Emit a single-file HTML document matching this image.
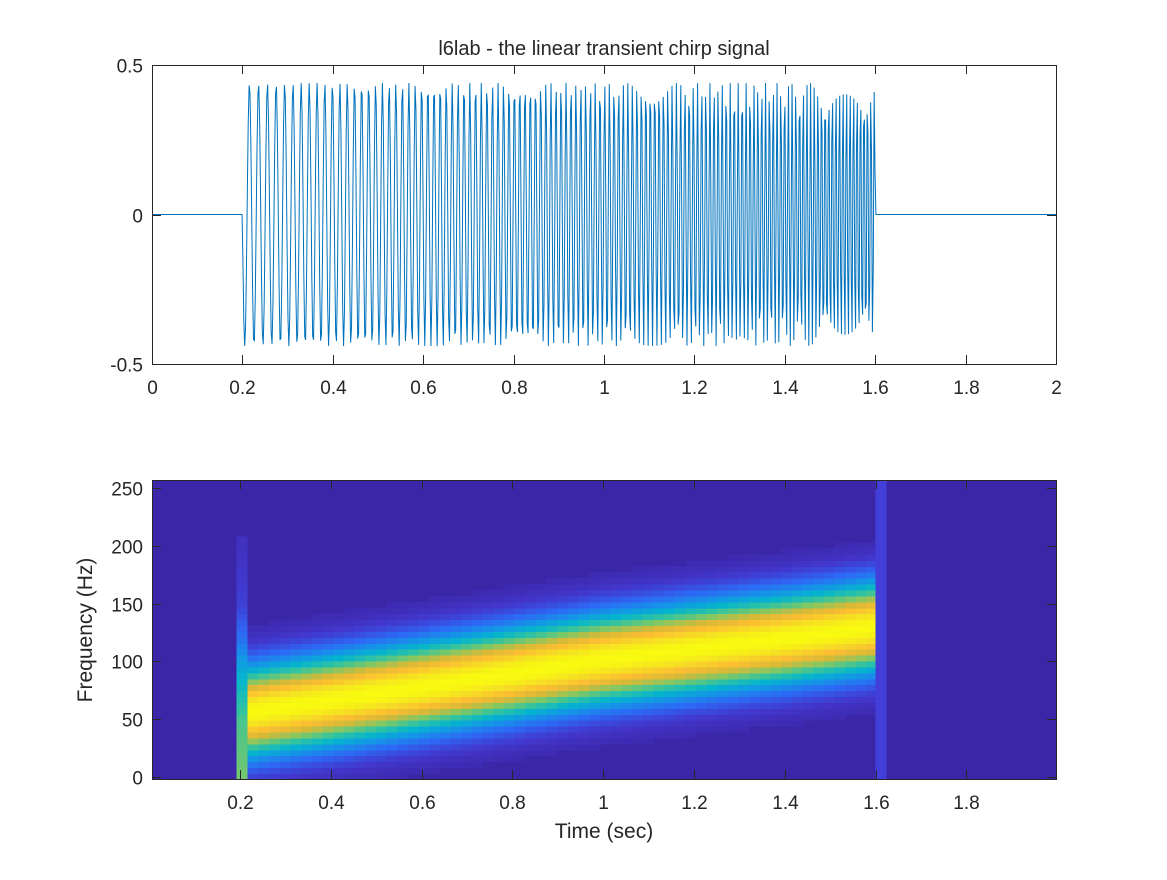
<!DOCTYPE html>
<html><head><meta charset="utf-8"><style>
html,body{margin:0;padding:0;background:#fff;}
svg text{font-family:"Liberation Sans",Arial,sans-serif;fill:#262626;}
</style></head><body>
<svg id="fig" width="1167" height="875" viewBox="0 0 1167 875" xmlns="http://www.w3.org/2000/svg" shape-rendering="crispEdges">
<rect width="1167" height="875" fill="#fff"/>
<g id="topplot"></g>
<g id="botplot"></g>
</svg>
<script>
// ---- signal data (chirp parameters) ----
const chirpTimes = [0.2, 1.6];
const chirpFreqs = [48, 132];
const chirpAmp = [0.44];
const sampleRate = [512];
const topXTicks = [0,0.2,0.4,0.6,0.8,1,1.2,1.4,1.6,1.8,2];
const topXLabels = ["0","0.2","0.4","0.6","0.8","1","1.2","1.4","1.6","1.8","2"];
const topYTicks = [-0.5,0,0.5];
const topYLabels = ["-0.5","0","0.5"];
// ---- spectrogram data ----
const ridgeTimes = [0.2, 0.6, 1.0, 1.4, 1.6];
const ridgeFreqs = [55, 78, 102, 120, 130];
const ridgeWidth = [38];
const onsetColumn = [0.192, 0.217];
const onsetFreqs = [0, 50, 90, 120, 150, 205];
const onsetLevels = [0.6, 0.55, 0.4, 0.22, 0.1, 0.05];
const offsetColumn = [1.6, 1.624];
const botXTicks = [0.2,0.4,0.6,0.8,1,1.2,1.4,1.6,1.8];
const botXLabels = ["0.2","0.4","0.6","0.8","1","1.2","1.4","1.6","1.8"];
const botYTicks = [0,50,100,150,200,250];
const botYLabels = ["0","50","100","150","200","250"];

const NS="http://www.w3.org/2000/svg";
function mk(tag, attrs, parent){const e=document.createElementNS(NS,tag);for(const k in attrs)e.setAttribute(k,attrs[k]);parent.appendChild(e);return e;}
function interp(xs,ys,x){if(x<=xs[0])return ys[0];for(let i=1;i<xs.length;i++){if(x<=xs[i]){const f=(x-xs[i-1])/(xs[i]-xs[i-1]);return ys[i-1]+f*(ys[i]-ys[i-1]);}}return ys[ys.length-1];}

const T={x0:152,x1:1056,y0:65,y1:364};
const tx=t=>T.x0+(t-0)/(2-0)*(T.x1-T.x0);
const ty=v=>T.y1-(v+0.5)/1*(T.y1-T.y0);
const topG=document.getElementById('topplot');
(function(){
  const fs=sampleRate[0];let d="";
  const k=(chirpFreqs[1]-chirpFreqs[0])/(chirpTimes[1]-chirpTimes[0]);
  for(let i=0;i<=2*fs;i++){
    const t=i/fs;let v=0;
    if(t>=chirpTimes[0]&&t<=chirpTimes[1]){const u=t-chirpTimes[0];v=-chirpAmp[0]*Math.sin(2*Math.PI*(chirpFreqs[0]*u+k/2*u*u));}
    d+=(i?"L":"M")+tx(t).toFixed(2)+" "+ty(v).toFixed(2);
  }
  const p=mk('path',{d:d,fill:'none',stroke:'#0072BD','stroke-width':1,'shape-rendering':'auto'},topG);
  
  
})();
function axesFrame(g,A,xt,xl,xf,yt,yl,yf,prefix){
  const r=mk('rect',{x:A.x0+0.5,y:A.y0+0.5,width:A.x1-A.x0,height:A.y1-A.y0,fill:'none',stroke:'#262626','stroke-width':1},g);
  
  
  xt.forEach((v,i)=>{const x=Math.round(xf(v))+0.5;
    mk('line',{x1:x,x2:x,y1:A.y1,y2:A.y1-9,stroke:'#262626'},g);
    mk('line',{x1:x,x2:x,y1:A.y0,y2:A.y0+9,stroke:'#262626'},g);
    const t=mk('text',{x:x,y:A.y1+30,'text-anchor':'middle','font-size':19},g);t.textContent=xl[i];
    
    
  });
  yt.forEach((v,i)=>{const y=Math.round(yf(v))+0.5;
    mk('line',{x1:A.x0,x2:A.x0+9,y1:y,y2:y,stroke:'#262626'},g);
    mk('line',{x1:A.x1,x2:A.x1-9,y1:y,y2:y,stroke:'#262626'},g);
    const t=mk('text',{x:A.x0-9,y:y+7,'text-anchor':'end','font-size':19},g);t.textContent=yl[i];
    
    
  });
}
axesFrame(topG,T,topXTicks,topXLabels,tx,topYTicks,topYLabels,ty,'signal');
const title=mk('text',{x:604,y:55,'text-anchor':'middle','font-size':20},topG);
title.textContent="l6lab - the linear transient chirp signal";



const B={x0:152,x1:1056,y0:480,y1:779};
const bx=t=>240+(t-0.2)*(875.5-240)/1.4;
const by=f=>777-f*(777-488)/250;
const botG=document.getElementById('botplot');
const stops=[[0,[60,38,168]],[0.08,[66,55,205]],[0.2,[45,105,245]],[0.32,[20,150,230]],[0.42,[5,180,205]],[0.52,[50,195,160]],[0.62,[130,200,100]],[0.72,[215,185,55]],[0.82,[252,190,50]],[0.92,[245,225,35]],[1,[248,250,15]]];
function cmap(v){v=Math.max(0,Math.min(1,v));for(let i=1;i<stops.length;i++){if(v<=stops[i][0]){const a=stops[i-1],b=stops[i];const f=(v-a[0])/(b[0]-a[0]);return 'rgb('+a[1].map((c,j)=>Math.round(c+(b[1][j]-c)*f)).join(',')+')';}}return 'rgb(248,250,15)';}
const bg=mk('rect',{x:B.x0,y:B.y0,width:B.x1-B.x0,height:B.y1-B.y0,fill:cmap(0)},botG);


const dt=0.0235, df=256/50;
for(let t=onsetColumn[1];t<chirpTimes[1]-1e-6;t+=dt){
  const c=interp(ridgeTimes,ridgeFreqs,t+dt/2);const t2=Math.min(t+dt,chirpTimes[1]);
  for(let f=-2;f<257;f+=df){
    const d=(f+df/2-c)/ridgeWidth[0];const v=Math.exp(-d*d);
    if(v<0.02)continue;
    const y0=Math.max(B.y0,by(f+df)),y1=Math.min(B.y1,by(f));
    const r=mk('rect',{x:bx(t).toFixed(1),y:y0.toFixed(1),width:(bx(t2)-bx(t)+0.6).toFixed(1),height:(y1-y0+0.6).toFixed(1),fill:cmap(v)},botG);
    
    
  }
}
for(let f=-2;f<onsetFreqs[onsetFreqs.length-1];f+=df){
  const v=interp(onsetFreqs,onsetLevels,f+df/2);
  const y0=by(f+df),y1=Math.min(B.y1,by(f));
  const r=mk('rect',{x:bx(onsetColumn[0]),y:y0,width:bx(onsetColumn[1])-bx(onsetColumn[0]),height:y1-y0+0.6,fill:cmap(v)},botG);
  
  
}
const oc=mk('rect',{x:bx(offsetColumn[0]),y:B.y0,width:bx(offsetColumn[1])-bx(offsetColumn[0]),height:B.y1-B.y0,fill:'rgb(66,62,218)'},botG);


axesFrame(botG,B,botXTicks,botXLabels,bx,botYTicks,botYLabels,by,'spectrogram');
const xlab=mk('text',{x:604,y:838,'text-anchor':'middle','font-size':21},botG);xlab.textContent="Time (sec)";


const ylab=mk('text',{x:0,y:0,'text-anchor':'middle','font-size':21,transform:'translate(92,630) rotate(-90)'},botG);ylab.textContent="Frequency (Hz)";


</script>
</body></html>
